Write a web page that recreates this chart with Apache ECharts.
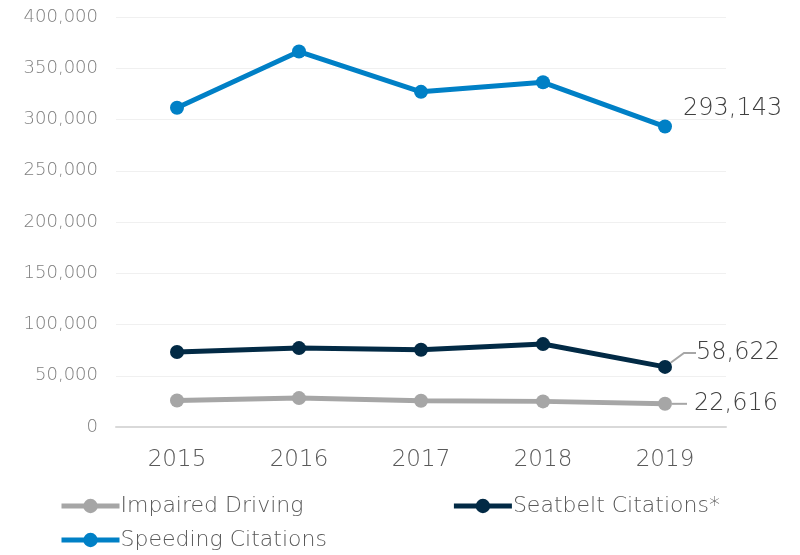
<!DOCTYPE html>
<html><head><meta charset="utf-8">
<script src="https://cdn.jsdelivr.net/npm/echarts@6/dist/echarts.min.js"></script>
<style>html,body{margin:0;padding:0;background:#fff}#c{width:800px;height:555px}</style>
</head><body><div id="c"></div>
<script>
const years = ['2015','2016','2017','2018','2019'];
const impaired = [25900, 28200, 25600, 25000, 22616];
const seatbelt = [73100, 77000, 75400, 80900, 58622];
const speeding = [311400, 366300, 327000, 336300, 293143];
const yTicks = [0, 50000, 100000, 150000, 200000, 250000, 300000, 350000, 400000];

const FONT = 'DejaVu Sans';
const W = 200;
const fmt = v => v.toLocaleString('en-US');
const last = years.length - 1;

function withLastLabel(arr, opts) {
  return arr.map((v, i) => i === last ? Object.assign({value: v}, opts) : v);
}
const labelText = {color: '#404040', fontSize: 24, fontFamily: FONT, fontWeight: W};
const legendBase = {
  left: 54, itemWidth: 58, itemHeight: 18,
  lineStyle: {width: 5},
  textStyle: {color: '#595959', fontSize: 22, fontFamily: FONT, fontWeight: W, padding: [0,0,0,-4]}
};

const chart = echarts.init(document.getElementById('c'));
chart.setOption({
  animation: false,
  grid: {left: 116, right: 74, top: 17, bottom: 128},
  xAxis: {
    type: 'category', data: years, boundaryGap: true,
    axisLine: {show: true, lineStyle: {color: '#d9d9d9', width: 2}},
    axisTick: {show: false},
    axisLabel: {color: '#595959', fontSize: 23, fontFamily: FONT, fontWeight: W, margin: 22}
  },
  yAxis: {
    type: 'value', min: yTicks[0], max: yTicks[yTicks.length - 1], interval: 50000,
    axisLine: {show: false}, axisTick: {show: false},
    splitLine: {lineStyle: {color: '#f0f0f0', width: 1}},
    axisLabel: {color: '#7f7f7f', fontSize: 18, fontFamily: FONT, fontWeight: W, margin: 18,
      formatter: v => fmt(v)}
  },
  legend: [
    Object.assign({}, legendBase, {top: 490, itemGap: 148, data: ['Impaired Driving', 'Seatbelt Citations*']}),
    Object.assign({}, legendBase, {top: 524, data: ['Speeding Citations']})
  ],
  series: [
    {
      name: 'Impaired Driving', type: 'line', color: '#a6a6a6',
      symbol: 'circle', symbolSize: 14, lineStyle: {width: 5},
      data: withLastLabel(impaired, {
        label: Object.assign({show: true, position: 'right', distance: 0,
          formatter: p => '{l|}{t|' + fmt(p.value) + '}',
          rich: {
            l: {width: 15, height: 2, backgroundColor: '#a6a6a6', verticalAlign: 'middle'},
            t: Object.assign({padding: [0, 0, 0, 7], verticalAlign: 'middle'}, labelText)
          }}, labelText)
      })
    },
    {
      name: 'Seatbelt Citations*', type: 'line', color: '#022a45',
      symbol: 'circle', symbolSize: 14, lineStyle: {width: 5},
      labelLayout: p => p.dataIndex === last ? {dx: 24, dy: -14} : {},
      labelLine: {show: true, length2: 12, lineStyle: {color: '#a6a6a6', width: 2}},
      data: withLastLabel(seatbelt, {
        label: Object.assign({show: true, position: 'right', distance: 0, formatter: p => fmt(p.value)}, labelText)
      })
    },
    {
      name: 'Speeding Citations', type: 'line', color: '#0080c6',
      symbol: 'circle', symbolSize: 14, lineStyle: {width: 5},
      data: withLastLabel(speeding, {
        label: Object.assign({show: true, position: 'right', distance: 11, offset: [0, -18], formatter: p => fmt(p.value)}, labelText)
      })
    }
  ]
});
</script></body></html>
